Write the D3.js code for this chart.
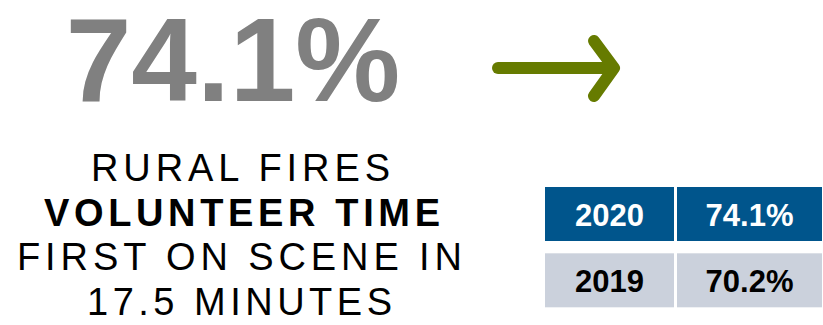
<!DOCTYPE html>
<html>
<head>
<meta charset="utf-8">
<script src="https://cdn.jsdelivr.net/npm/d3@7"></script>
<style>
  body { margin: 0; background: #fff; }
  text { font-family: "Liberation Sans", Arial, sans-serif; }
</style>
</head>
<body>
<div id="chart"></div>
<script>
(function(){

const headline = 74.1;
const years = ["2020", "2019"];
const values = [74.1, 70.2];
const captionLines = ["RURAL FIRES", "VOLUNTEER TIME", "FIRST ON SCENE IN", "17.5 MINUTES"];
const captionBold = [false, true, false, false];

const width = 823;
const height = 325;

const svg = d3.select("#chart")
  .append("svg")
  .attr("width", width)
  .attr("height", height);

const fmt = d => d3.format(".1f")(d) + "%";

// big number
svg.append("text")
  .attr("x", 233)
  .attr("y", 101)
  .attr("text-anchor", "middle")
  .attr("font-size", 118)
  .attr("font-weight", "bold")
  .attr("fill", "#808080")
  .text(fmt(headline));

// arrow
const arrow = svg.append("g")
  .attr("fill", "none")
  .attr("stroke", "#667b00")
  .attr("stroke-width", 12)
  .attr("stroke-linecap", "round")
  .attr("stroke-linejoin", "round");

arrow.append("line")
  .attr("x1", 498).attr("y1", 68)
  .attr("x2", 612).attr("y2", 68);

arrow.append("path")
  .attr("d", d3.line()([[594, 41], [614, 68], [594, 96]]));

// caption lines, stretched to the measured widths
const lineX = [91, 44, 17, 87];
const lineW = [299, 396, 445, 305];
const lineY = d3.scaleLinear().domain([0, 3]).range([181, 315]);

svg.append("g")
  .selectAll("text")
  .data(captionLines)
  .join("text")
  .attr("x", (d, i) => lineX[i])
  .attr("y", (d, i) => lineY(i))
  .attr("font-size", 38)
  .attr("font-weight", (d, i) => captionBold[i] ? "bold" : "normal")
  .attr("fill", "#000")
  .attr("textLength", (d, i) => lineW[i])
  .attr("lengthAdjust", "spacing")
  .text(d => d);

// table
const columns = ["year", "value"];
const colX = d3.scaleOrdinal().domain(columns).range([545, 677]);
const colW = d3.scaleOrdinal().domain(columns).range([129, 145]);
const rowY = d3.scaleBand().domain(years).range([187, 311]).paddingInner(0.13);
const rowH = 54;
const rowFill = d3.scaleOrdinal().domain(years).range(["#00558c", "#cbd1dc"]);
const rowText = d3.scaleOrdinal().domain(years).range(["#ffffff", "#000000"]);

const cells = [];
years.forEach((y, i) => {
  cells.push({ row: y, col: "year", label: y });
  cells.push({ row: y, col: "value", label: fmt(values[i]) });
});

const cell = svg.append("g")
  .selectAll("g")
  .data(cells)
  .join("g");

cell.append("rect")
  .attr("x", d => colX(d.col))
  .attr("y", d => rowY(d.row))
  .attr("width", d => colW(d.col))
  .attr("height", rowH)
  .attr("fill", d => rowFill(d.row));

cell.append("text")
  .attr("x", d => colX(d.col) + colW(d.col) / 2)
  .attr("y", d => rowY(d.row) + rowH / 2 + 12)
  .attr("text-anchor", "middle")
  .attr("font-size", 31)
  .attr("font-weight", "bold")
  .attr("fill", d => rowText(d.row))
  .text(d => d.label);

})();
</script>
</body>
</html>
